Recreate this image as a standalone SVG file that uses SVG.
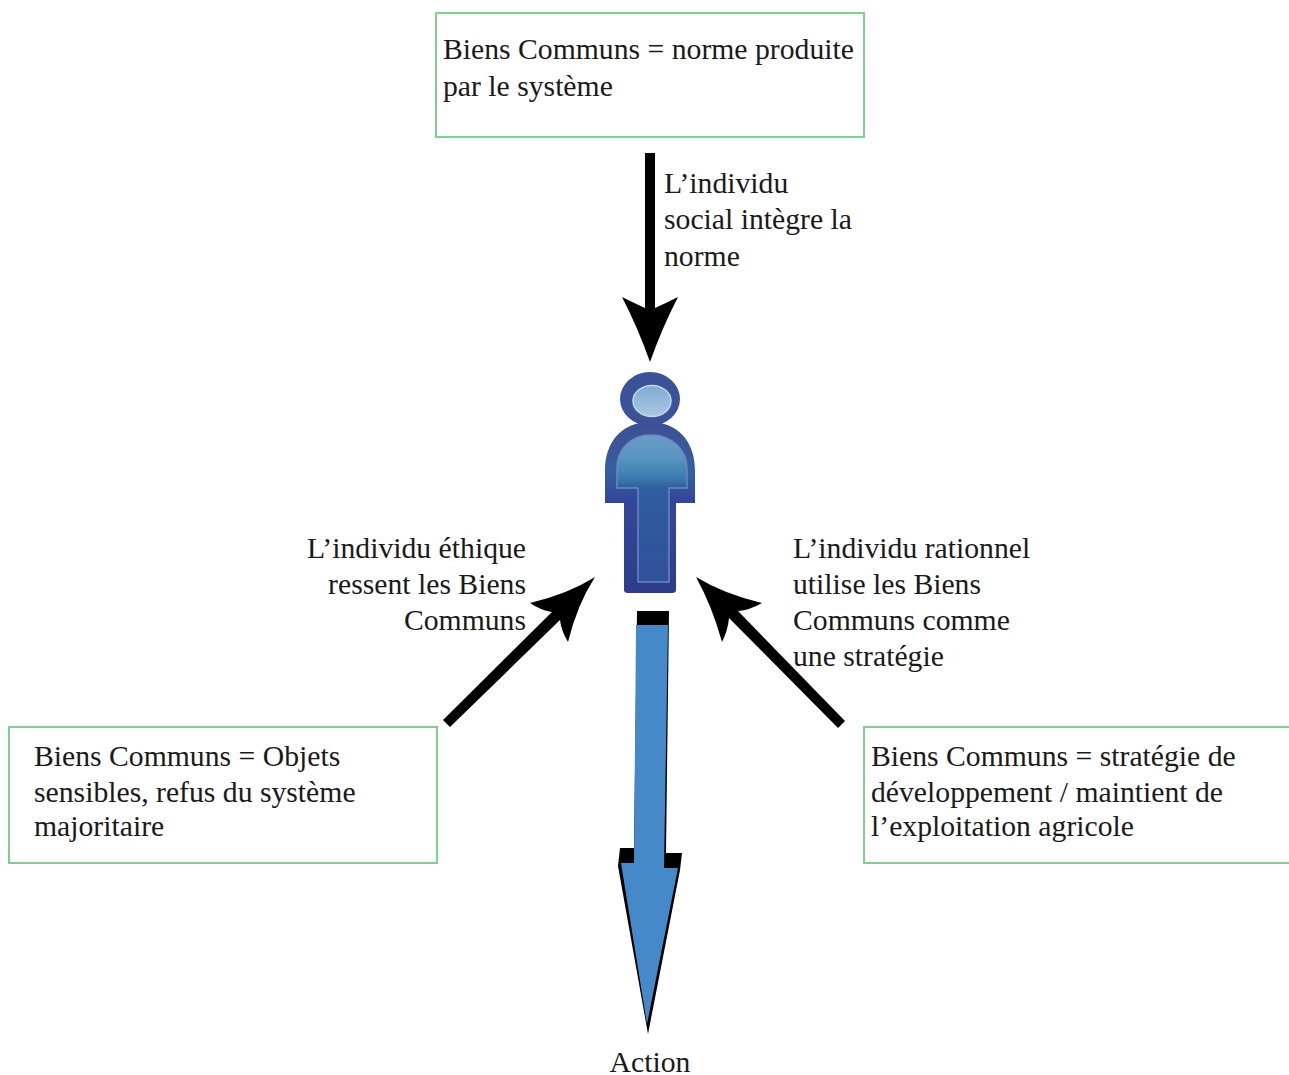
<svg xmlns="http://www.w3.org/2000/svg" width="1289" height="1075" viewBox="0 0 1289 1075">
<defs>
<style>
text{font-family:"Liberation Serif","Times New Roman",serif;font-size:29.7px;fill:#1a1a1a}
.box{fill:#fff;stroke:#7fd08f;stroke-width:2}
.arr{fill:#000}
</style>
<linearGradient id="bodyG" gradientUnits="userSpaceOnUse" x1="0" y1="435" x2="0" y2="582"><stop offset="0" stop-color="#6a9cc8"/><stop offset="0.15" stop-color="#5a96c2"/><stop offset="0.29" stop-color="#3c7cae"/><stop offset="0.36" stop-color="#2f5e9e"/><stop offset="1" stop-color="#30509c"/></linearGradient>
<linearGradient id="outerG" x1="0" y1="0" x2="0" y2="1"><stop offset="0" stop-color="#3f4f96"/><stop offset="0.3" stop-color="#35609e"/><stop offset="0.45" stop-color="#33479a"/><stop offset="1" stop-color="#2c3c8a"/></linearGradient>
<linearGradient id="headG" x1="0" y1="0" x2="0" y2="1"><stop offset="0" stop-color="#83a9d2"/><stop offset="1" stop-color="#a9c8e2"/></linearGradient>
</defs>
<g id="connectors">
<path class="arr" d="M645 153H655V308Q666 303 678 297Q662 328 650 362Q638 328 622 297Q634 303 645 308Z"/>
<path class="arr" d="M450 727L443 720L552 612Q540 610 530 603Q568 594 595 577Q577 605 568 642Q561 630 560 620Z"/>
<path class="arr" d="M838 728L845 721L738 611Q750 610 762 603Q724 594 696 577Q712 606 722 642Q728 630 729 618Z"/>
<g id="action-arrow">
<path class="arr" d="M637 611H669L666 853H682L680 870L648 1034L618 866L620 848H634Z"/>
<path d="M636 625H668L664 868H678L647 1024L621 863H634Z" fill="#4589c8"/>
</g>
</g>
<g id="node-top">
<rect class="box" x="436" y="13" width="428" height="124"/>
<text x="443" y="59">Biens Communs = norme produite</text>
<text x="443" y="96">par le système</text>
</g>
<g id="label-social">
<text x="664" y="193">L’individu</text>
<text x="664" y="229">social intègre la</text>
<text x="664" y="266">norme</text>
</g>
<g id="person">
<path d="M650 422C622 422 605 442 605 470V503H624V590Q624 593 628 593H672Q676 593 676 590V503H695V470C695 442 678 422 650 422Z" fill="url(#outerG)"/>
<path d="M651 435C630 435 617 450 617 468V488H638V582H669V488H687V468C687 450 672 435 651 435Z" fill="url(#bodyG)" stroke="#6f86bf" stroke-width="1.5"/>
<ellipse cx="650" cy="399" rx="30" ry="27" fill="#3c5298"/>
<ellipse cx="652" cy="401" rx="19" ry="15.500" fill="url(#headG)" stroke="#c5d8ec" stroke-width="1.5"/>
</g>
<g id="label-ethique">
<text x="526" y="558" text-anchor="end">L’individu éthique</text>
<text x="526" y="594" text-anchor="end">ressent les Biens</text>
<text x="526" y="630" text-anchor="end">Communs</text>
</g>
<g id="label-rationnel">
<text x="793" y="558">L’individu rationnel</text>
<text x="793" y="594">utilise les Biens</text>
<text x="793" y="630">Communs comme</text>
<text x="793" y="666">une stratégie</text>
</g>
<g id="node-left">
<rect class="box" x="9" y="727" width="428" height="136"/>
<text x="34" y="766">Biens Communs = Objets</text>
<text x="34" y="802">sensibles, refus du système</text>
<text x="34" y="836">majoritaire</text>
</g>
<g id="node-right">
<rect class="box" x="864" y="727" width="428" height="136"/>
<text x="871" y="766">Biens Communs = stratégie de</text>
<text x="871" y="802">développement / maintient de</text>
<text x="871" y="836">l’exploitation agricole</text>
</g>
<g id="label-action"><text x="650" y="1071.500" text-anchor="middle">Action</text></g>
</svg>
